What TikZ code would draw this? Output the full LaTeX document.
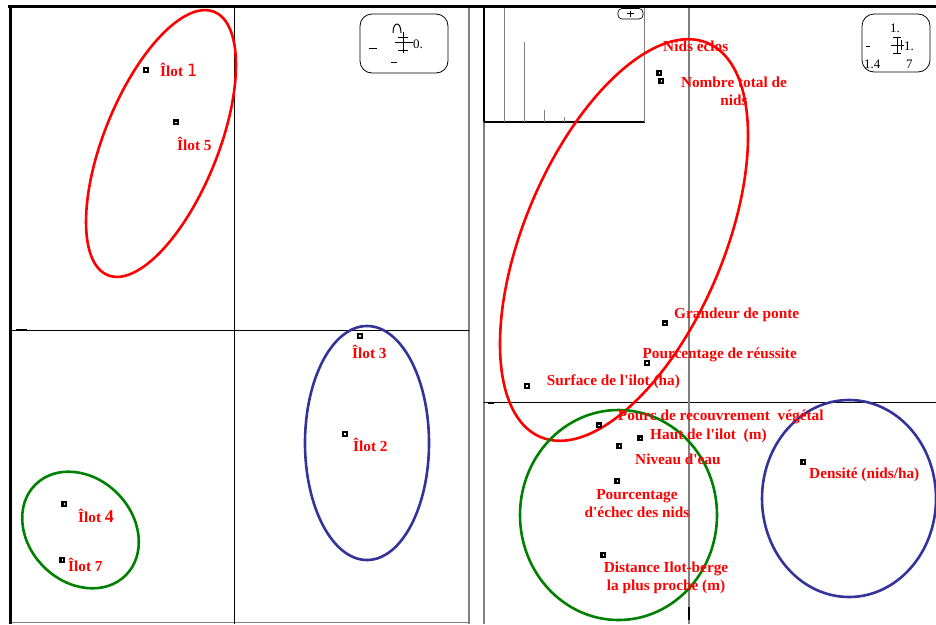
\documentclass[tikz,border=0pt]{standalone}
\usepackage{fontspec}
\setmainfont{Liberation Serif}
\newfontfamily\digfont{DejaVu Sans Mono}
\definecolor{elred}{RGB}{255,0,0}
\definecolor{elblue}{RGB}{51,51,153}
\definecolor{elgreen}{RGB}{0,128,0}
\definecolor{lgray}{RGB}{128,128,128}
\newcommand{\sq}{\textquotesingle}
\begin{document}
\begin{tikzpicture}[x=1pt,y=-1pt,
  ptbox/.style={rectangle,fill=black,minimum size=6pt,inner sep=0pt,
    path picture={\fill[white] ([shift={(-0.8pt,-0.8pt)}]path picture bounding box.center) rectangle ([shift={(0.8pt,0.8pt)}]path picture bounding box.center);}},
  lab/.style={text=elred,font=\fontsize{15.3}{18}\selectfont\bfseries,inner sep=0pt,anchor=base west},
  labc/.style={text=elred,font=\fontsize{15.3}{17.5}\selectfont\bfseries,inner sep=0pt,align=center,anchor=base},
  ellline/.style={line width=2.6pt},
  frame/.style={line width=3pt,black},
  grayline/.style={lgray,line width=1.2pt},
  axis/.style={black,line width=0.8pt},
  legtxt/.style={font=\fontsize{13}{13}\selectfont,inner sep=0pt,anchor=base west},
  legbox/.style={draw=black,line width=0.8pt,rounded corners=12pt}
]
\useasboundingbox (0,0) rectangle (936,624);

% ---- frame and axes ----
\draw[grayline] (469,6) -- (469,624);
\draw[lgray,line width=1pt] (10,622.5) -- (469,622.5);
\draw[axis] (10,330.5) -- (469,330.5);
\draw[black,line width=1.2pt] (16,329.5) -- (27,329.5);
\draw[axis] (234.3,6) -- (234.3,624);
\draw[grayline] (484,122) -- (484,624);
\draw[black,line width=1.5pt] (484,6) -- (484,122);
\draw[black,line width=1.2pt] (484,122) -- (645,122);
\draw[lgray,line width=1pt] (644.7,6) -- (644.7,122);
\draw[lgray,line width=0.8pt] (504.3,8) -- (504.3,122);
\draw[lgray,line width=0.8pt] (524.3,42) -- (524.3,122);
\draw[lgray,line width=0.8pt] (544.3,110) -- (544.3,122);
\draw[lgray,line width=0.8pt] (564.3,117) -- (564.3,122);
\draw[axis] (484,402.5) -- (936,402.5);
\draw[black,line width=1.2pt] (488,403) -- (494,403);
\draw[grayline] (689,6) -- (689,624);
\draw[black,line width=1.5pt] (689,607) -- (689,620);
\draw[frame] (10.3,5) -- (10.3,624);
\draw[frame] (8,6.3) -- (936,6.3);

% ---- small box in inset ----
\draw[black,line width=0.7pt,rounded corners=4pt] (618,8.5) rectangle (643,19);
\draw[black,line width=0.8pt] (627,13.5) -- (634,13.5) (630.5,10.5) -- (630.5,16.5);

% ---- left legend ----
\draw[legbox] (360,14) rectangle (448,73);
\draw[black,line width=1pt] (369,48) -- (377,48);
\draw[black,line width=1pt] (393,33) .. controls (393,21) and (401,21) .. (401,33);
\draw[black,line width=0.9pt] (403,32) -- (403,53) (395,42.5) -- (413,42.5) (398,37) -- (408,37) (398,50) -- (408,50);
\node[legtxt] (legA) at (413,48) {0.};
\draw[black,line width=1pt] (391,62) -- (397,62);

% ---- right legend ----
\draw[legbox] (862,14) rectangle (930,72);
\node[legtxt] (legB) at (890,32) {1.};
\draw[black,line width=1pt] (866,46) -- (870,46);
\draw[black,line width=0.9pt] (897,37) -- (897,53) (893,37) -- (901,37) (893,53) -- (901,53) (891,45) -- (904,45) (901,40) -- (901,50);
\node[legtxt] (legC) at (904,50) {1.};
\node[legtxt] (legD) at (864,68) {1.4};
\node[legtxt] (legE) at (906,68) {7};

% ---- ellipses ----
\draw[ellline,elred,rotate around={68:(161,143.5)}] (161,143.5) ellipse [x radius=142, y radius=57];
\draw[ellline,elblue] (367,443) ellipse [x radius=62, y radius=117];
\draw[ellline,elgreen,rotate around={-45:(80.5,530)}] (80.5,530) ellipse [x radius=64, y radius=52];
\draw[ellline,elred,rotate around={67:(624,240)}] (624,240) ellipse [x radius=214, y radius=99.5];
\draw[ellline,elgreen] (618.5,515) ellipse [x radius=98.5, y radius=105];
\draw[ellline,elblue] (849,498.5) ellipse [x radius=87, y radius=98.5];

% ---- points ----
\node[ptbox] (p1) at (145.7,69.7) {};
\node[ptbox] (p5) at (176,122.3) {};
\node[ptbox] (p3) at (360,336) {};
\node[ptbox] (p2) at (345,434) {};
\node[ptbox] (p4) at (64.3,503.7) {};
\node[ptbox] (p7) at (62.3,560) {};
\node[ptbox] (pne) at (659.3,72.7) {};
\node[ptbox] (pnt) at (661.3,81) {};
\node[ptbox] (pgp) at (665,323.3) {};
\node[ptbox] (ppr) at (646.7,362.7) {};
\node[ptbox] (psi) at (526.7,386) {};
\node[ptbox] (prv) at (599,425.3) {};
\node[ptbox] (phi) at (640.3,438.3) {};
\node[ptbox] (pne2) at (619.3,446) {};
\node[ptbox] (pen) at (617.3,480.7) {};
\node[ptbox] (pdb) at (603.3,555) {};
\node[ptbox] (pde) at (803.3,461.7) {};

% ---- labels ----
\node[lab] (l1) at (160,76) {Îlot {\digfont\fontsize{17}{17}\selectfont\mdseries 1}};
\node[lab] (l5) at (177,150) {Îlot 5};
\node[lab] (l3) at (352,358) {Îlot 3};
\node[lab] (l2) at (353,451) {Îlot 2};
\node[lab] (l4) at (78,522) {Îlot {\fontsize{18}{18}\selectfont 4}};
\node[lab] (l7) at (68,571) {Îlot 7};
\node[lab] (lne) at (663,51) {Nids éclos};
\node[labc] (lnt) at (734,105) {Nombre total de\\nids};
\node[lab] (lgp) at (674,318.5) {Grandeur de ponte};
\node[lab] (lpr) at (642.3,358.5) {Pourcentage de réussite};
\node[lab] (lsi) at (546.7,385.5) {Surface de l\sq ilot (ha)};
\node[lab] (lrv) at (617.7,420.5) {Pourc de recouvrement~~végétal};
\node[lab] (lhi) at (650,439.5) {Haut de l\sq ilot~~(m)};
\node[lab] (lni) at (635,464.5) {Niveau d\sq eau};
\node[labc] (len) at (637,517) {Pourcentage\\d\sq échec des nids};
\node[labc] (ldb) at (666,590) {Distance Ilot-berge\\la plus proche (m)};
\node[lab] (lde) at (809,478) {Densité (nids/ha)};
\end{tikzpicture}
\end{document}
